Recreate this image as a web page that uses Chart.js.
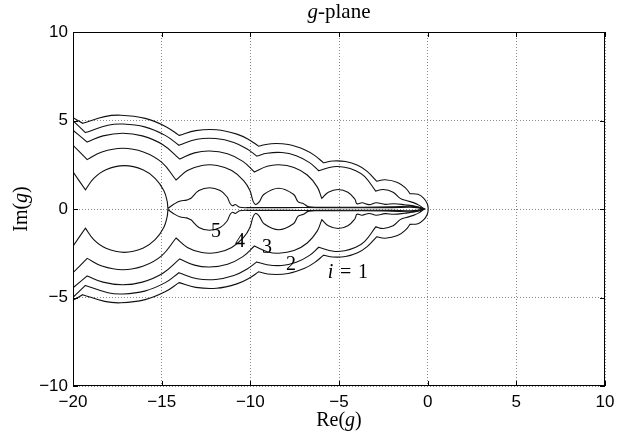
<!DOCTYPE html>
<html>
<head>
<meta charset="utf-8">
<script src="https://cdn.jsdelivr.net/npm/chart.js@4.4.1/dist/chart.umd.min.js"></script>
<style>
  html, body { margin: 0; background: #fff; }
  #wrap { width: 632px; height: 435px; }
</style>
</head>
<body>
<div id="wrap"><canvas id="plane" width="632" height="435"></canvas></div>
<script>
// axis ticks
const xTicks = [-20, -15, -10, -5, 0, 5, 10];
const yTicks = [-10, -5, 0, 5, 10];

// upper halves of the contours (cusps repeated)
const curve1X = [-20, -19.45, -19.45, -18.22, -17.3, -15.93, -14.81, -14.02, -14.02, -13.08, -11.91, -10.76, -10.05, -9.54, -9.54, -8.82, -7.86, -6.94, -6.38, -5.87, -5.87, -5.34, -4.63, -3.95, -3.43, -2.88, -2.88, -2.4, -1.7, -1.23, -1.0, -1.0, -0.55, -0.23, -0.02, 0.03];
const curve1Y = [5.16, 4.84, 4.84, 5.22, 5.3, 5.12, 4.68, 4.16, 4.16, 4.43, 4.48, 4.23, 3.9, 3.55, 3.55, 3.69, 3.64, 3.35, 3.03, 2.61, 2.61, 2.71, 2.68, 2.47, 2.14, 1.57, 1.57, 1.65, 1.5, 1.17, 0.87, 0.87, 0.83, 0.62, 0.3, 0];

const curve2X = [-20, -19.3, -19.3, -18.03, -17.2, -15.96, -14.8, -14.03, -14.03, -13.0, -11.95, -10.93, -10.18, -9.64, -9.64, -9.06, -8.22, -7.41, -6.66, -6.14, -6.14, -5.31, -4.68, -4.09, -3.56, -2.93, -2.93, -2.5, -1.95, -1.55, -1.2, -0.8, -0.5, -0.2];
const curve2Y = [4.99, 4.32, 4.32, 4.73, 4.8, 4.64, 4.16, 3.6, 3.6, 3.94, 3.98, 3.76, 3.39, 2.99, 2.99, 3.15, 3.19, 3.01, 2.62, 2.16, 2.16, 2.39, 2.36, 2.18, 1.84, 1.01, 1.01, 1.1, 0.95, 0.6, 0.48, 0.36, 0.22, 0];

const curve3X = [-20, -19.2, -19.2, -18.31, -17.2, -16.09, -14.93, -13.98, -13.98, -13.15, -12.3, -11.29, -10.42, -9.77, -9.77, -9.05, -8.4, -7.54, -6.79, -6.23, -5.97, -5.97, -5.6, -5.05, -4.5, -4.1, -3.99, -3.7, -3.3, -2.9, -2.4, -1.9, -1.3, -0.7, -0.2];
const curve3Y = [4.45, 3.78, 3.78, 4.13, 4.28, 4.13, 3.63, 2.82, 2.82, 3.17, 3.28, 3.12, 2.69, 2.09, 2.09, 2.41, 2.5, 2.35, 1.92, 1.25, 0.6, 0.6, 0.95, 1.1, 0.95, 0.55, 0.3, 0.35, 0.25, 0.35, 0.26, 0.3, 0.24, 0.16, 0];

const curve4X = [-20, -19.2, -19.2, -18.37, -17.2, -16.03, -14.99, -14.19, -14.19, -13.55, -12.73, -11.87, -11.05, -10.38, -10.03, -9.84, -9.7, -9.5, -9.23, -8.4, -7.57, -7.3, -7.0, -6.7, -6.0, -4.0, -2.0, -1.0, -0.6, -0.2];
const curve4Y = [3.6, 2.79, 2.79, 3.22, 3.43, 3.22, 2.63, 1.64, 1.64, 2.17, 2.46, 2.46, 2.17, 1.61, 1.06, 0.43, 0.25, 0.4, 0.83, 1.17, 0.83, 0.4, 0.3, 0.12, 0.1, 0.1, 0.12, 0.16, 0.12, 0];

const curve5X = [-20, -19.3, -19.3, -18.83, -18.14, -17.1, -16.06, -15.37, -14.88, -14.69, -14.65, -14.65, -14.3, -13.95, -13.6, -13.35, -13.35, -12.9, -12.3, -11.7, -11.32, -11.14, -11.0, -10.85, -10.6, -10.0, -8.0, -6.0, -4.0, -2.0, -1.0, -0.6, -0.25];
const curve5Y = [2.1, 1.08, 1.08, 1.73, 2.22, 2.45, 2.22, 1.73, 1.04, 0.43, 0.03, 0.03, 0.28, 0.45, 0.5, 0.6, 0.6, 1.04, 1.2, 1.04, 0.69, 0.31, 0.18, 0.25, 0.1, 0.08, 0.08, 0.08, 0.07, 0.08, 0.1, 0.08, 0];

// contour labels
const labelText = ['5', '4', '3', '2', 'i = 1'];
const labelX = [-11.94, -10.58, -9.06, -7.71, -4.5];
const labelY = [-1.19, -1.75, -2.09, -3.05, -3.5];

// the curves are symmetric about the real axis: upper half, then mirrored lower half
function closedCurve(xs, ys, roundTip) {
    const pts = xs.map((x, i) => ({x: x, y: ys[i]}));
    const lower = pts.slice().reverse().map(p => ({x: p.x, y: -p.y}));
    return roundTip ? pts.concat(lower.slice(1)) : pts.concat(lower);
}

const curves = [
    closedCurve(curve1X, curve1Y, true),
    closedCurve(curve2X, curve2Y, false),
    closedCurve(curve3X, curve3Y, false),
    closedCurve(curve4X, curve4Y, false),
    closedCurve(curve5X, curve5Y, false)
];

const minus = v => String(v).replace('-', '\u2212');

// draws box, inward ticks, titles and contour labels
const framePlugin = {
    id: 'frame',
    afterDraw(chart) {
        const ctx = chart.ctx;
        const a = chart.chartArea;
        const xs = chart.scales.x;
        const ys = chart.scales.y;
        ctx.save();
        ctx.strokeStyle = '#000';
        ctx.lineWidth = 1;
        ctx.strokeRect(a.left + 0.5, a.top + 0.5, a.right - a.left - 1, a.bottom - a.top - 1);
        ctx.beginPath();
        xTicks.forEach(v => {
            const px = Math.round(xs.getPixelForValue(v)) + 0.5;
            ctx.moveTo(px, a.bottom); ctx.lineTo(px, a.bottom - 5);
            ctx.moveTo(px, a.top); ctx.lineTo(px, a.top + 5);
        });
        yTicks.forEach(v => {
            const py = Math.round(ys.getPixelForValue(v)) + 0.5;
            ctx.moveTo(a.left, py); ctx.lineTo(a.left + 5, py);
            ctx.moveTo(a.right, py); ctx.lineTo(a.right - 5, py);
        });
        ctx.stroke();

        ctx.fillStyle = '#000';
        ctx.textBaseline = 'alphabetic';
        const serif = "'Liberation Serif', 'DejaVu Serif', serif";
        // mixed italic / upright text pieces
        function rich(parts, cx, cy, size) {
            let w = 0;
            parts.forEach(p => { ctx.font = p[1] + ' ' + size + 'px ' + serif; w += ctx.measureText(p[0]).width; });
            let x = cx - w / 2;
            ctx.textAlign = 'left';
            parts.forEach(p => {
                ctx.font = p[1] + ' ' + size + 'px ' + serif;
                ctx.fillText(p[0], x, cy);
                x += ctx.measureText(p[0]).width;
            });
        }
        const midX = (a.left + a.right) / 2;
        rich([['g', 'italic'], ['-plane', 'normal']], midX, 18, 21);
        rich([['Re(', 'normal'], ['g', 'italic'], [')', 'normal']], midX, 426, 20);
        ctx.save();
        ctx.translate(27, (a.top + a.bottom) / 2);
        ctx.rotate(-Math.PI / 2);
        rich([['Im(', 'normal'], ['g', 'italic'], [')', 'normal']], 0, 0, 20);
        ctx.restore();

        labelText.forEach((t, i) => {
            const px = xs.getPixelForValue(labelX[i]);
            const py = ys.getPixelForValue(labelY[i]) + 7;
            if (t.startsWith('i')) {
                rich([['i', 'italic'], ['\u2004=\u20041', 'normal']], px, py, 20);
            } else {
                rich([[t, 'normal']], px, py, 20);
            }
        });
        ctx.restore();
    }
};

new Chart(document.getElementById('plane'), {
    type: 'scatter',
    data: {
        datasets: curves.map((pts, i) => ({
            label: 'i = ' + (i + 1),
            data: pts,
            showLine: true,
            borderColor: '#111',
            borderWidth: 1.1,
            pointRadius: 0,
            tension: 0.4,
            fill: false
        }))
    },
    options: {
        responsive: false,
        animation: false,
        events: [],
        layout: { padding: { left: 0, top: 32, right: 27, bottom: 0 } },
        plugins: { legend: { display: false }, tooltip: { enabled: false } },
        scales: {
            x: {
                type: 'linear', min: -20, max: 10,
                afterBuildTicks: s => { s.ticks = xTicks.map(v => ({value: v})); },
                afterFit: s => { s.height = 49; },
                ticks: { color: '#000', padding: 6, maxRotation: 0, font: { family: "'Liberation Sans', Arial, sans-serif", size: 17 }, callback: v => minus(v) },
                grid: { color: '#8a8a8a', lineWidth: 1, drawTicks: false },
                border: { display: false, dash: [1, 2] }
            },
            y: {
                type: 'linear', min: -10, max: 10,
                afterBuildTicks: s => { s.ticks = yTicks.map(v => ({value: v})); },
                afterFit: s => { s.width = 73; },
                ticks: { color: '#000', padding: 5, font: { family: "'Liberation Sans', Arial, sans-serif", size: 17 }, callback: v => minus(v) },
                grid: { color: '#8a8a8a', lineWidth: 1, drawTicks: false },
                border: { display: false, dash: [1, 2] }
            }
        }
    },
    plugins: [framePlugin]
});
</script>
</body>
</html>
